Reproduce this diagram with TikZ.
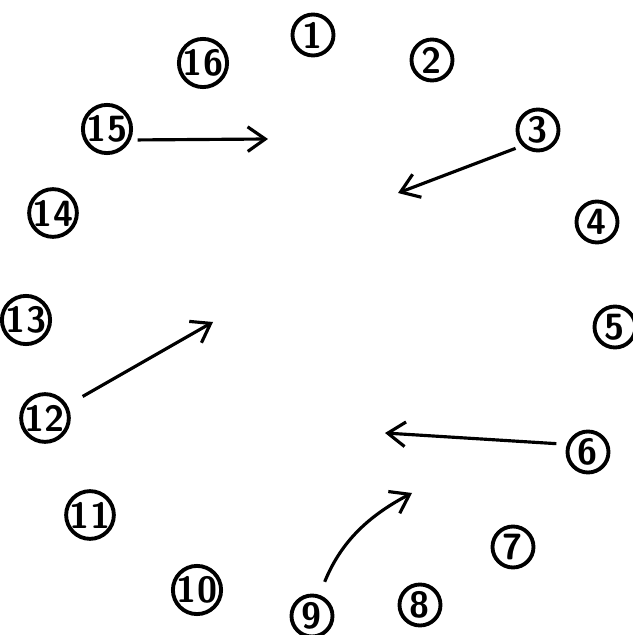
\documentclass[tikz,border=0pt]{standalone}
\usepackage{tikz}
\usetikzlibrary{arrows.meta}

\tikzset{
  num/.style={draw,circle,line width=2.2pt,minimum size=0.82cm,inner sep=0pt,
    font=\sffamily\bfseries\huge},
  move/.style={line width=1.8pt,-{Straight Barb[length=10pt,width=14pt,line width=1.8pt]},
    shorten <=4pt}
}

\begin{document}
\begin{tikzpicture}
\useasboundingbox (0,0) rectangle (12.64,12.7);
% numbered spots round the ring
\node[num] (n1) at (6.26,12.00) {1};
\node[num] (n2) at (8.64,11.50) {2};
\node[num] (n3) at (10.76,10.10) {3};
\node[num] (n4) at (11.94,8.26) {4};
\node[num] (n5) at (12.30,6.16) {5};
\node[num] (n6) at (11.76,3.66) {6};
\node[num] (n7) at (10.26,1.76) {7};
\node[num] (n8) at (8.40,0.60) {8};
\node[num] (n9) at (6.24,0.38) {9};
\node[num] (n10) at (3.94,0.90) {10};
\node[num] (n11) at (1.80,2.40) {11};
\node[num] (n12) at (0.90,4.34) {12};
\node[num] (n13) at (0.52,6.30) {13};
\node[num] (n14) at (1.06,8.44) {14};
\node[num] (n15) at (2.14,10.12) {15};
\node[num] (n16) at (4.06,11.44) {16};
% arrow ends
\coordinate (t15) at (5.36,9.92);
\coordinate (t3) at (7.96,8.84);
\coordinate (t12) at (4.26,6.26);
\coordinate (t6) at (7.70,4.04);
\coordinate (t9) at (8.24,2.84);
\draw[move] (n15.-25) -- (t15);
\draw[move] (n3.225) -- (t3);
\draw[move,shorten <=10pt] (n12) -- (t12);
\draw[move,shorten <=6pt] (n6.160) -- (t6);
\draw[move,shorten <=8pt] (n9) to[bend left=20] (t9);
\end{tikzpicture}
\end{document}
